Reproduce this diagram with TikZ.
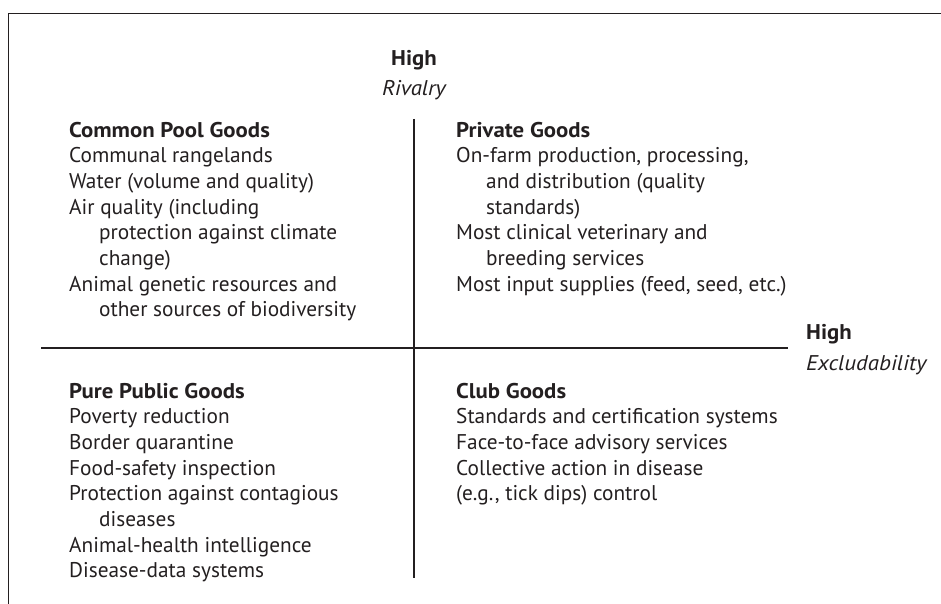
\documentclass[tikz,border=0pt]{standalone}
\usepackage{fontspec}
\setmainfont{PT Sans}[BoldFeatures={FakeStretch=1.07}, ItalicFeatures={FakeStretch=1.08}]
\usetikzlibrary{positioning}
\definecolor{ink}{RGB}{35,31,32}
\tikzset{
  goods/.style={align=left, inner sep=0pt, anchor=base west, text=ink, font=\fontsize{21.3}{25.7}\selectfont},
  axlabel/.style={inner sep=0pt, text=ink, font=\fontsize{21.3}{25.7}\selectfont},
  axisline/.style={line width=2pt, ink},
}
\newcommand{\ind}{\hspace*{30pt}}

\begin{document}
\begin{tikzpicture}[x=1pt,y=-1pt]
  \useasboundingbox (0,0) rectangle (941,604);
  % frame, cut at the right and bottom
  \draw[line width=1.4pt, ink] (8.5,620) -- (8.5,13.5) -- (960,13.5);
  % axes
  \coordinate (rivtop) at (414,119);
  \coordinate (rivbot) at (414,578);
  \coordinate (excl) at (41,348);
  \coordinate (excr) at (788,348);
  \draw[axisline] (rivtop) -- (rivbot);
  \draw[axisline] (excl) -- (excr);
  % axis labels
  \node[axlabel, anchor=base, font=\fontsize{21.3}{25.7}\selectfont\bfseries] (rivhigh) at (414,66) {High};
  \node[axlabel, anchor=base, font=\fontsize{21.3}{25.7}\selectfont\itshape] (rivname) at (414,96) {Rivalry};
  \node[axlabel, anchor=base west, font=\fontsize{21.3}{25.7}\selectfont\bfseries] (exchigh) at (806,339) {High};
  \node[axlabel, anchor=base west, font=\fontsize{21.3}{25.7}\selectfont\itshape] (excname) at (806,370) {Excludability};
  % quadrants (anchored on the baseline of their last line)
  \node[goods] (common) at (69,316.9) {\textbf{Common Pool Goods}\\
    Communal rangelands\\
    Water (volume and quality)\\
    Air quality (including\\
    \ind protection against climate\\
    \ind change)\\
    Animal genetic resources and\\
    \ind other sources of biodiversity};
  \node[goods] (private) at (456,291.2) {\textbf{Private Goods}\\
    On-farm production, processing,\\
    \ind and distribution (quality\\
    \ind standards)\\
    Most clinical veterinary and\\
    \ind breeding services\\
    Most input supplies (feed, seed, etc.)};
  \node[goods] (public) at (69,577.9) {\textbf{Pure Public Goods}\\
    Poverty reduction\\
    Border quarantine\\
    Food-safety inspection\\
    Protection against contagious\\
    \ind diseases\\
    Animal-health intelligence\\
    Disease-data systems};
  \node[goods] (club) at (456,500.8) {\textbf{Club Goods}\\
    Standards and certification systems\\
    Face-to-face advisory services\\
    Collective action in disease\\
    (e.g., tick dips) control};
\end{tikzpicture}
\end{document}
